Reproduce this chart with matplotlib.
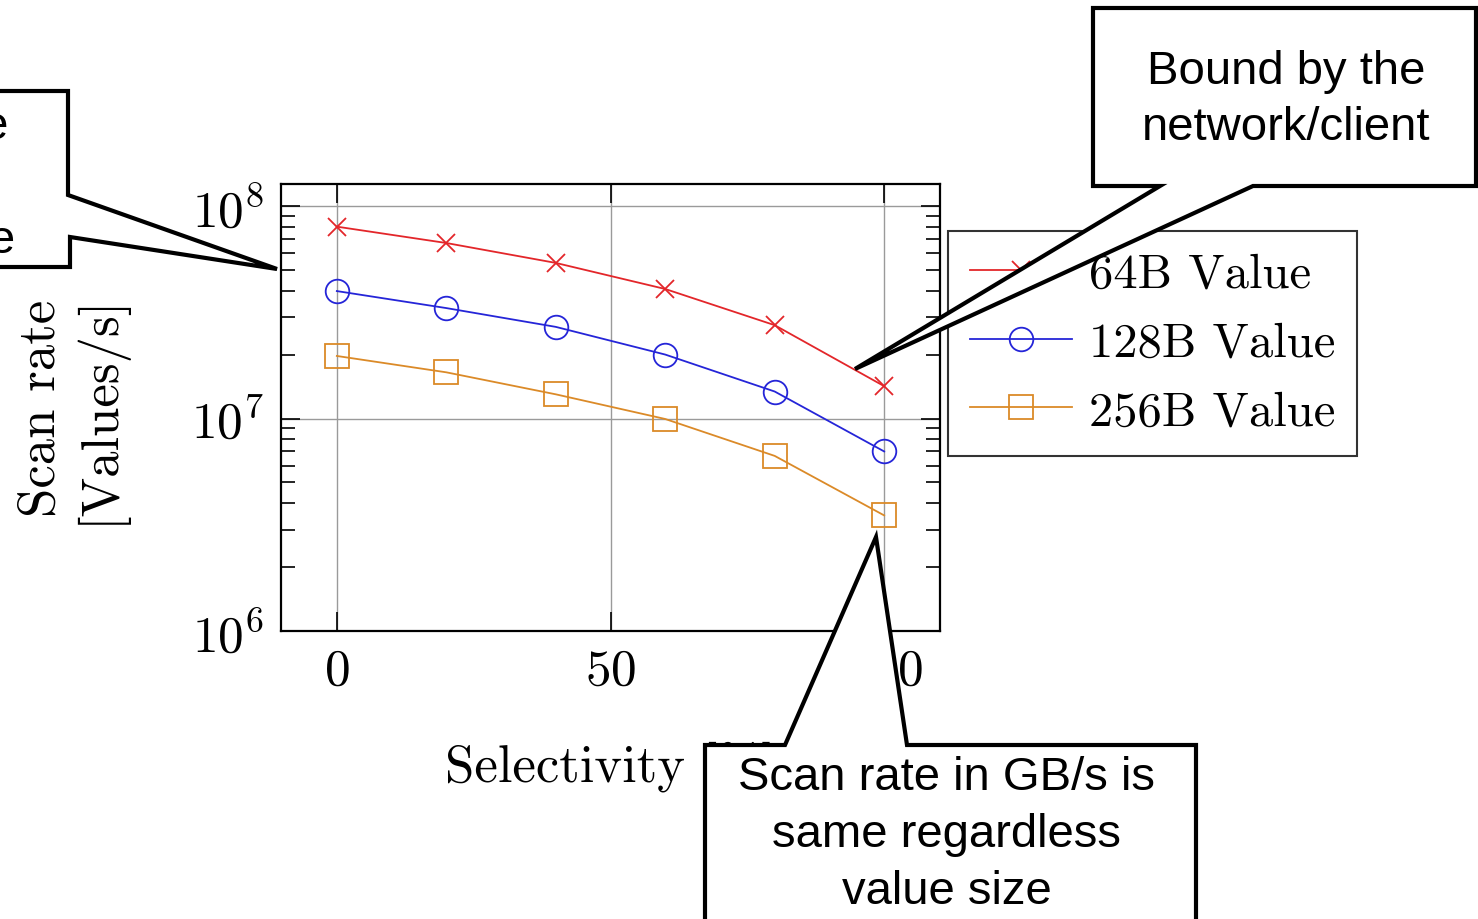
import numpy as np
import matplotlib
matplotlib.use("Agg")
import matplotlib.pyplot as plt
from matplotlib import rcParams as rcp
from matplotlib.patches import Polygon

rcp['font.family'] = 'cmr10'
rcp['mathtext.fontset'] = 'cm'
rcp['axes.formatter.use_mathtext'] = True
rcp['axes.unicode_minus'] = False

W, H = 1478, 920

# data
selectivity = [0, 20, 40, 60, 80, 100]
rate_64 = [8.0e7, 6.7e7, 5.4e7, 4.07e7, 2.75e7, 1.42e7]
rate_128 = [3.98e7, 3.31e7, 2.7e7, 2.0e7, 1.34e7, 7.0e6]
rate_256 = [1.97e7, 1.65e7, 1.30e7, 9.95e6, 6.67e6, 3.5e6]
labels = ["64B Value", "128B Value", "256B Value"]
xticks = [0, 50, 100]

callout_font = 'Liberation Sans'


def px(x, y):
    # image pixel (y down) -> figure fraction
    return (x / W, 1 - y / H)


fig = plt.figure(figsize=(W / 100, H / 100), dpi=100)
ax = fig.add_axes([281 / W, 1 - 632 / H, (940 - 281) / W, (632 - 185) / H])

ax.plot(selectivity, rate_64, color='#e3262a', lw=1.3, marker='x', ms=13, mew=1.3, label=labels[0])
ax.plot(selectivity, rate_128, color='#2525d8', lw=1.3, marker='o', ms=17, mfc='none', mew=1.3, label=labels[1])
ax.plot(selectivity, rate_256, color='#db8a28', lw=1.3, marker='s', ms=17, mfc='none', mew=1.3, label=labels[2])

ax.set_yscale('log')
ax.set_xlim(-10.2, 110.2)
ax.set_ylim(1e6, 1.27e8)
ax.set_xticks(xticks)
ax.grid(True, which='major', color='#9a9a9a', lw=1.0)
ax.tick_params(which='both', direction='in', top=True, right=True, labelsize=37, width=1.2)
ax.tick_params(which='major', length=14, pad=12)
ax.tick_params(which='minor', length=10)
for s in ax.spines.values():
    s.set_linewidth(1.6)

ax.set_xlabel("Selectivity [%]", fontsize=38)
ax.xaxis.set_label_coords(0.5, -0.245)
ax.set_ylabel("Scan rate\n[Values/s]", fontsize=38)
ax.yaxis.set_label_coords(-0.235, 0.5)

leg = ax.legend(loc='upper left', bbox_to_anchor=((948 - 281) / 659, (632 - 232) / 447),
                borderaxespad=0, fontsize=35, frameon=True, fancybox=False,
                edgecolor='black', handlelength=2.1, handletextpad=0.35,
                labelspacing=0.5, borderpad=0.45)
leg.get_frame().set_linewidth(1.5)

### Callouts
shapes = [
    [(-20, 92), (68, 92), (68, 196), (277, 270), (70, 238), (70, 268), (-20, 268)],
    [(1093, 9), (1476, 9), (1476, 187), (1253, 187), (855, 370), (1160, 187), (1093, 187)],
    [(705, 746), (785, 746), (876, 538), (907, 746), (1196, 746), (1196, 935), (705, 935)],
]
for pts in shapes:
    poly = Polygon([px(*p) for p in pts], closed=True, transform=fig.transFigure,
                   facecolor='white', edgecolor='black', lw=3.0, joinstyle='miter',
                   zorder=10, clip_on=False)
    fig.add_artist(poly)

fig.text(*px(15, 184), "Bound by the\nserver CPU\nper value size", ha='right', va='center',
         multialignment='center', fontsize=34, family=callout_font, linespacing=1.38, zorder=11)
fig.text(*px(1286, 100), "Bound by the\nnetwork/client", ha='center', va='center',
         multialignment='center', fontsize=34, family=callout_font, linespacing=1.38, zorder=11)
fig.text(*px(947, 835), "Scan rate in GB/s is\nsame regardless\nvalue size", ha='center', va='center',
         multialignment='center', fontsize=34, family=callout_font, linespacing=1.38, zorder=11)

fig.savefig("out.png", dpi=100)
